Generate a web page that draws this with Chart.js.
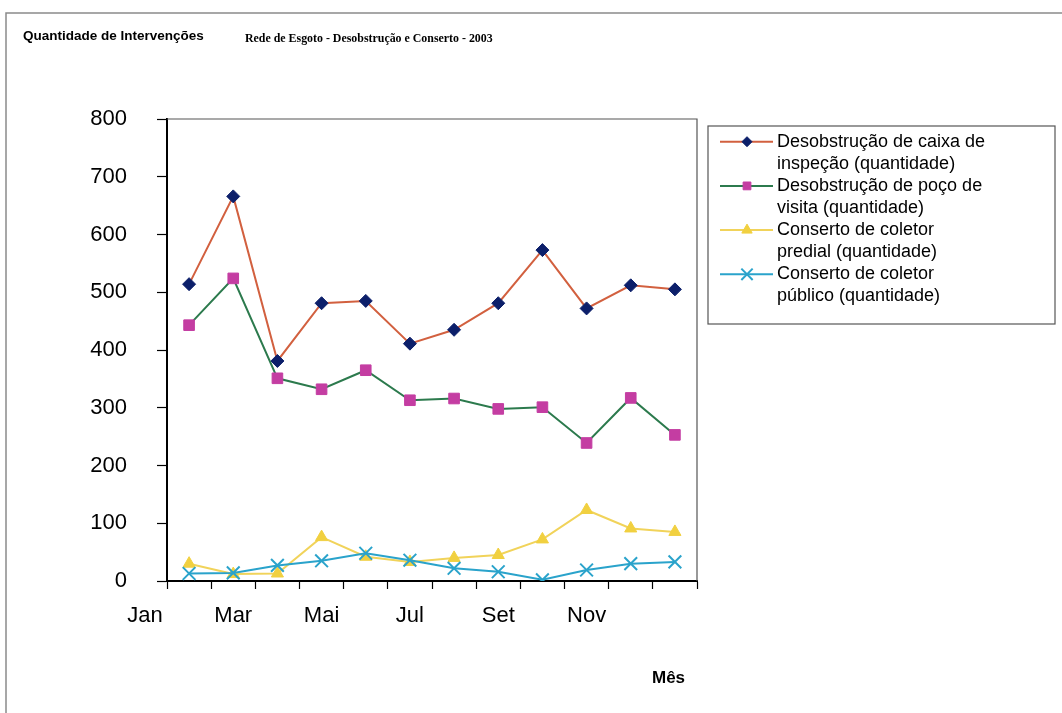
<!DOCTYPE html>
<html>
<head>
<meta charset="utf-8">
<script src="https://cdn.jsdelivr.net/npm/chart.js@4/dist/chart.umd.min.js"></script>
<style>
  html, body { margin: 0; padding: 0; background: #fff; }
  #wrap { position: relative; width: 1062px; height: 713px; }
</style>
</head>
<body>
<div id="wrap"><canvas id="c" width="1062" height="713"></canvas></div>
<script>
// ---- data ----
const monthPos = [1, 2, 3, 4, 5, 6, 7, 8, 9, 10, 11, 12];
const tickLabels = ['Jan', 'Mar', 'Mai', 'Jul', 'Set', 'Nov'];
const tickLabelPos = [0, 2, 4, 6, 8, 10];
const tickMarkPos = [0.5, 1.5, 2.5, 3.5, 4.5, 5.5, 6.5, 7.5, 8.5, 9.5, 10.5, 11.5, 12.5];
const yTicks = [0, 100, 200, 300, 400, 500, 600, 700, 800];

const caixaInspecao = [514, 666, 381, 481, 485, 411, 435, 481, 573, 472, 512, 505];
const pocoVisita   = [443, 524, 351, 332, 365, 313, 316, 298, 301, 239, 317, 253];
const coletorPredial = [30, 12, 13, 76, 42, 33, 40, 45, 72, 123, 91, 85];
const coletorPublico = [13, 14, 27, 35, 48, 36, 22, 16, 2, 19, 30, 33];

const seriesLabels = [
  'Desobstrução de caixa de inspeção (quantidade)',
  'Desobstrução de poço de visita (quantidade)',
  'Conserto de coletor predial (quantidade)',
  'Conserto de coletor público (quantidade)'
];
const mainTitle = 'Quantidade de Intervenções';
const subTitle = 'Rede de Esgoto - Desobstrução e Conserto - 2003';
const xTitle = 'Mês';

const toPts = arr => arr.map((v, i) => ({ x: monthPos[i], y: v }));

const FONT = '"Liberation Sans", Arial, sans-serif';

const decorPlugin = {
  id: 'decor',
  afterDraw(chart) {
    const ctx = chart.ctx;
    const a = chart.chartArea;
    ctx.save();
    // outer frame (top + left)
    ctx.strokeStyle = '#8a8a8a';
    ctx.lineWidth = 1.5;
    ctx.beginPath();
    ctx.moveTo(6, 713);
    ctx.lineTo(6, 13);
    ctx.lineTo(1062, 13);
    ctx.stroke();
    // plot frame top & right
    ctx.strokeStyle = '#555';
    ctx.lineWidth = 1.2;
    ctx.beginPath();
    ctx.moveTo(a.left, a.top);
    ctx.lineTo(a.right, a.top);
    ctx.lineTo(a.right, a.bottom);
    ctx.stroke();
    // titles
    ctx.fillStyle = '#000';
    ctx.textBaseline = 'alphabetic';
    ctx.textAlign = 'left';
    ctx.font = 'bold 13.5px ' + FONT;
    ctx.fillText(mainTitle, 23, 40);
    ctx.font = 'bold 11.9px "Liberation Serif", "DejaVu Serif", serif';
    ctx.fillText(subTitle, 245, 42);
    ctx.font = 'bold 17px ' + FONT;
    ctx.fillText(xTitle, 652, 683);

    // legend
    const lx = 708, ly = 126, lw = 347, lh = 198;
    ctx.strokeStyle = '#555';
    ctx.lineWidth = 1.2;
    ctx.strokeRect(lx, ly, lw, lh);
    ctx.font = '18px ' + FONT;
    ctx.textBaseline = 'middle';
    const lineStep = 22.1;
    let y = 141.7;
    const H = Chart.helpers;
    chart.data.datasets.forEach(ds => {
      // wrap label
      const words = ds.label.split(' ');
      const lines = [];
      let cur = '';
      words.forEach(w => {
        const t = cur ? cur + ' ' + w : w;
        if (ctx.measureText(t).width > 212 && cur) { lines.push(cur); cur = w; }
        else cur = t;
      });
      if (cur) lines.push(cur);
      // symbol
      ctx.strokeStyle = ds.borderColor;
      ctx.lineWidth = 2;
      ctx.beginPath();
      ctx.moveTo(720, y);
      ctx.lineTo(773, y);
      ctx.stroke();
      ctx.fillStyle = ds.pointBackgroundColor;
      ctx.strokeStyle = ds.pointBorderColor;
      ctx.lineWidth = ds.pointBorderWidth;
      if (H && H.drawPoint) {
        H.drawPoint(ctx, { pointStyle: ds.pointStyle, radius: ds.legendRadius, rotation: 0, borderWidth: ds.pointBorderWidth }, 747, y);
      }
      ctx.fillStyle = '#000';
      lines.forEach(t => { ctx.fillText(t, 777, y); y += lineStep; });
    });
    ctx.restore();
  }
};

new Chart(document.getElementById('c'), {
  type: 'line',
  data: {
    datasets: [
      {
        label: seriesLabels[0], data: toPts(caixaInspecao),
        borderColor: '#d2603f', borderWidth: 2,
        pointStyle: 'rectRot', pointRadius: 6.5, pointBackgroundColor: '#0c1f6a', pointBorderColor: '#0c1f6a', pointBorderWidth: 1,
        legendRadius: 5, order: 4
      },
      {
        label: seriesLabels[1], data: toPts(pocoVisita),
        borderColor: '#2c7a4d', borderWidth: 2,
        pointStyle: 'rect', pointRadius: 7.5, pointBackgroundColor: '#c43da2', pointBorderColor: '#c43da2', pointBorderWidth: 1,
        legendRadius: 5.5, order: 3
      },
      {
        label: seriesLabels[2], data: toPts(coletorPredial),
        borderColor: '#f1d35a', borderWidth: 2,
        pointStyle: 'triangle', pointRadius: 7, pointBackgroundColor: '#f1d040', pointBorderColor: '#f1d040', pointBorderWidth: 1,
        legendRadius: 6, order: 2
      },
      {
        label: seriesLabels[3], data: toPts(coletorPublico),
        borderColor: '#2aa3cb', borderWidth: 2,
        pointStyle: 'crossRot', pointRadius: 9, pointBackgroundColor: '#2aa3cb', pointBorderColor: '#2aa3cb', pointBorderWidth: 2,
        legendRadius: 8, order: 1
      }
    ]
  },
  options: {
    responsive: false,
    animation: false,
    events: [],
    layout: { padding: { top: 119, right: 365, bottom: 72, left: 0 } },
    elements: { line: { tension: 0, fill: false } },
    plugins: { legend: { display: false }, tooltip: { enabled: false }, title: { display: false } },
    scales: {
      x: {
        type: 'linear',
        min: 0.5, max: 12.5,
        afterBuildTicks(scale) {
          const vals = tickMarkPos.concat(tickLabelPos).sort((p, q) => p - q);
          scale.ticks = vals.map(v => ({ value: v }));
        },
        afterFit(scale) { scale.height = 60; },
        grid: {
          drawOnChartArea: false, drawTicks: true, tickLength: 8,
          tickColor: ctx => (ctx.tick && tickMarkPos.includes(ctx.tick.value)) ? '#000' : 'rgba(0,0,0,0)',
          tickWidth: 1.2
        },
        border: { display: true, color: '#000', width: 2 },
        ticks: {
          autoSkip: false, maxRotation: 0, minRotation: 0, padding: 14,
          color: '#000', font: { family: FONT, size: 22 },
          callback: v => { const k = tickLabelPos.indexOf(v); return k >= 0 ? tickLabels[k] : ''; }
        }
      },
      y: {
        min: 0, max: 800,
        afterBuildTicks(scale) { scale.ticks = yTicks.map(v => ({ value: v })); },
        afterFit(scale) { scale.width = 167; },
        grid: { drawOnChartArea: false, drawTicks: true, tickLength: 10, tickColor: '#000', tickWidth: 1.2 },
        border: { display: true, color: '#000', width: 2 },
        ticks: { padding: 30, color: '#000', font: { family: FONT, size: 22 } }
      }
    }
  },
  plugins: [decorPlugin]
});
</script>
</body>
</html>
